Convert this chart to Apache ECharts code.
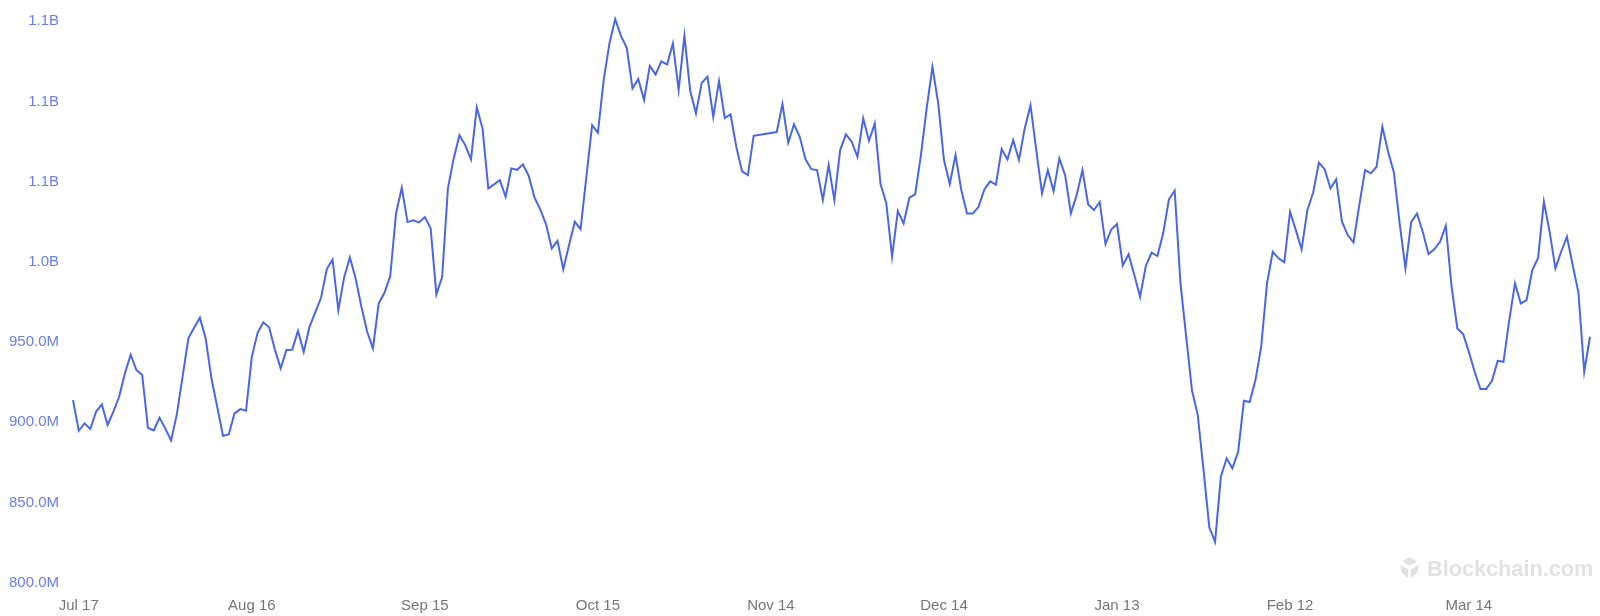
<!DOCTYPE html>
<html><head><meta charset="utf-8">
<style>html,body{margin:0;padding:0;background:#fff}#c{width:1600px;height:616px}</style>
<script src="https://cdn.jsdelivr.net/npm/echarts@6/dist/echarts.min.js"></script>
</head><body><div id="c"></div>
<script>
// first day of the series; one entry per day
const startDate = [2023, 6, 16];
// values in millions (null = no reading for that day)
const valuesA = [913.2,894.1,898.7,895.2,906.0,910.5,897.7,906.0,915.3,929.9,941.5,931.9,928.8,895.8,894.3,902.2,895.6,888.1,904.3,927.8,951.7,958.3,964.6,951.7,926.8,909.1,891.0,891.8,904.9,907.6,906.6,940.2,955.2,961.7,958.6,944.8,933.0,944.4,944.6,956.4,943.3,958.9,967.9,977.0,994.9,1000.9,969.3,989.7,1002.2,989.1,971.4,955.8,945.5,973.5,980.1,990.5,1029.6,1045.6,1024.2,1025.3,1024.0,1027.3,1020.3,979.1,990.1,1045.2];
const valuesB = [1063.9,1078.4,1072.2,1063.3,1095.7,1082.6,1045.2,1047.7,1050.4,1040.0,1057.7,1056.8,1060.2,1053.1,1039.6,1032.1,1023.0,1007.8,1012.5,994.7,1009.9,1024.4,1019.8,1052.4,1084.7,1079.9,1112.7,1135.6,1150.8,1140.3,1132.9,1107.6,1113.4,1100.3,1121.6,1116.3,1124.4,1122.5,1135.6,1106.5,1140.3,1106.1,1092.0,1111.0,1114.8,1089.8,1112.1,1089.0,1091.3,1071.1,1055.8,1053.5,1078.0,null,null,null,1080.3,1097.8,1073.6,1085.1,1077.2];
const valuesC = [1063.3,1057.2,1056.6,1037.9,1059.7,1037.9,1069.1,1078.9,1074.3,1064.9,1088.9,1074.9,1085.7,1047.9,1035.9,1002.6,1031.1,1023.4,1039.4,1041.5,1066.0,1095.1,1121.0,1098.2,1062.9,1047.9,1066.0,1044.2,1029.6,1029.6,1033.7,1044.6,1049.6,1047.5,1069.7,1063.3,1075.3,1062.9,1082.6,1097.1,1069.1,1042.1,1056.6,1043.5,1063.9,1053.5,1029.6,1041.0,1056.6,1035.2,1031.7,1036.7,1010.5,1019.6,1023.0,997.2,1004.1,991.2,977.6,997.0,1005.1,1003.0,1017.2,1038.4,1043.7];
const valuesD = [986.0,952.5,919.2,903.9,869.6,833.9,824.9,865.4,876.9,870.7,881.0,912.8,912.0,925.7,946.5,986.0,1005.7,1001.6,999.1,1030.6,1019.2,1007.2,1031.7,1042.5,1061.2,1057.2,1045.2,1050.8,1024.4,1016.1,1011.6,1034.8,1056.6,1054.6,1058.7,1083.6,1068.0,1055.2,1023.4,995.3,1024.2,1029.6,1018.2,1004.3,1007.2,1011.9,1021.9,983.9,957.9,954.4,943.3,930.9,920.1,920.1,925.3,937.7,937.1,963.1,986.0,973.5,975.6,994.3,1001.9,1036.9,1018.2,995.3,1005.7,1015.0,997.4,980.1,930.9,952.7];
const tickDates = ['Jul 17','Aug 16','Sep 15','Oct 15','Nov 14','Dec 14','Jan 13','Feb 12','Mar 14'];
const yTickLabels = {800:'800.0M',850:'850.0M',900:'900.0M',950:'950.0M',1000:'1.0B',1050:'1.1B',1100:'1.1B',1150:'1.1B'};

const values = [...valuesA, ...valuesB, ...valuesC, ...valuesD];
const MONTHS = ['Jan','Feb','Mar','Apr','May','Jun','Jul','Aug','Sep','Oct','Nov','Dec'];
const days = values.map((_, i) => {
  const d = new Date(Date.UTC(startDate[0], startDate[1], startDate[2] + i));
  return MONTHS[d.getUTCMonth()] + ' ' + d.getUTCDate();
});

const FONT = '"Liberation Sans", Arial, sans-serif';
const MARK = '#e2e2e2';
const YCOL = '#6a7df0';
const chart = echarts.init(document.getElementById('c'), null, {renderer:'canvas'});
chart.setOption({
  animation: false,
  backgroundColor: '#fff',
  grid: {left: 73, right: 10, top: 20.3, bottom: 34.3, containLabel: false},
  xAxis: {
    type: 'category', data: days, boundaryGap: false,
    axisLine: {show:false}, axisTick: {show:false}, splitLine: {show:false},
    axisLabel: {
      color: '#757575', fontFamily: FONT, fontSize: 15, margin: 17, hideOverlap: false,
      interval: (i, v) => tickDates.includes(v)
    }
  },
  yAxis: {
    type: 'value', min: 800, max: 1150, interval: 50,
    axisLine: {show:false}, axisTick: {show:false}, splitLine: {show:false},
    axisLabel: {color: YCOL, fontFamily: FONT, fontSize: 15, margin: 14,
      verticalAlignMaxLabel: 'middle', verticalAlignMinLabel: 'middle',
      formatter: v => '{t|' + yTickLabels[v] + '}',
      rich: {t: {color: YCOL, fontFamily: FONT, fontSize: 15, padding: [2,0,0,0]}}}
  },
  series: [{
    type: 'line', data: values, showSymbol: false, connectNulls: true, clip: false,
    lineStyle: {color: '#4a66e6', width: 2, join: 'miter'}, smooth: false
  }],
  graphic: [
    {type:'polygon', silent:true, shape:{points:[[1409.5,557.3],[1417,561.5],[1409.5,565.7],[1402,561.5]]}, style:{fill:MARK}},
    {type:'polygon', silent:true, shape:{points:[[1399.5,564.5],[1408.3,569.5],[1408.3,578.3],[1402,573]]}, style:{fill:MARK}},
    {type:'polygon', silent:true, shape:{points:[[1419.5,564.5],[1410.7,569.5],[1410.7,578.3],[1417,573]]}, style:{fill:MARK}},
    {type:'text', left: 1427, top: 559, style:{text:'Blockchain.com', fill:MARK, font:'bold 21.7px '+FONT}}
  ]
});
</script></body></html>
